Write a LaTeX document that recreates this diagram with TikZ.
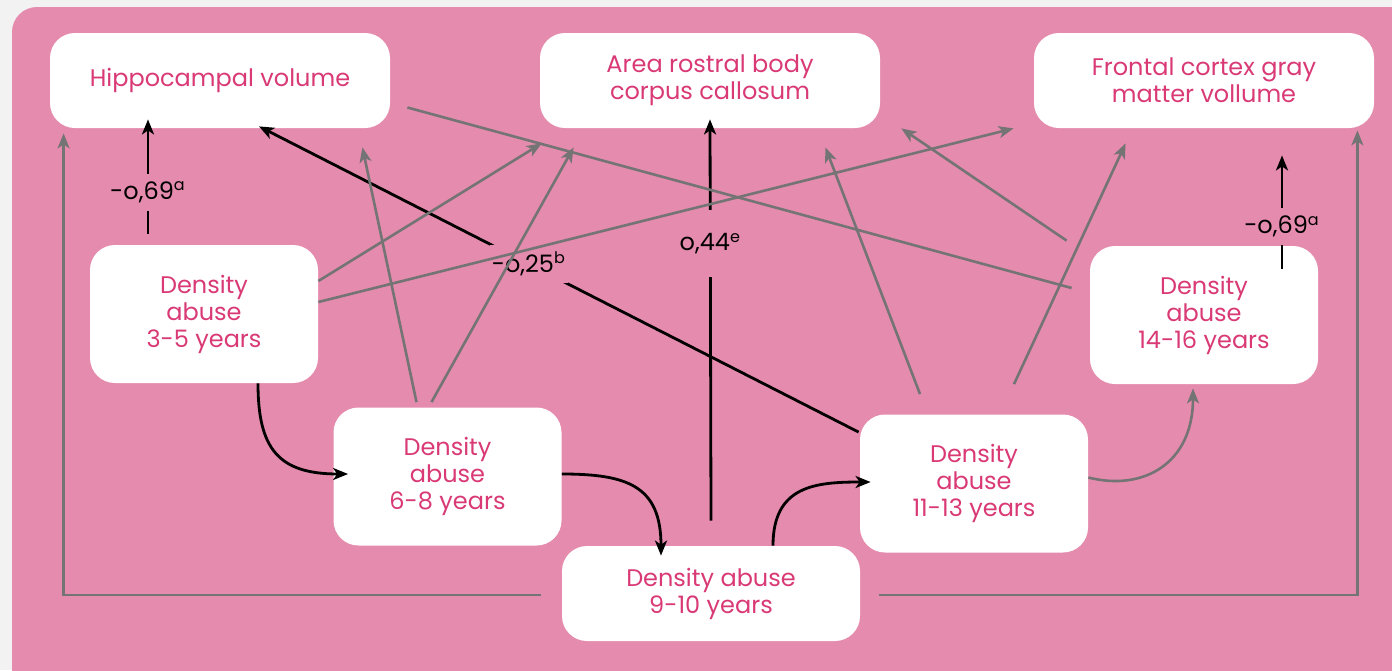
\documentclass[tikz,border=0pt]{standalone}
\usepackage{fontspec}
\setmainfont{Poppins}
\usetikzlibrary{arrows.meta,calc}

\definecolor{pagegray}{HTML}{F2F2F2}
\definecolor{panelpink}{HTML}{E58BAD}
\definecolor{boxtext}{HTML}{D93A76}
\definecolor{linkgray}{HTML}{747474}

\tikzstyle{box} = [rectangle, rounded corners=12.5pt, fill=white, text=boxtext, align=center, inner sep=0pt, font=\fontsize{12}{13.5}\selectfont]
\tikzstyle{topbox} = [box, minimum width=170pt, minimum height=47.5pt]
\tikzstyle{agebox} = [box, minimum width=114pt, minimum height=69pt]
\tikzstyle{link} = [linkgray, line width=1.3pt, -{Stealth[length=7.5pt,width=6pt,inset=2pt]}]
\tikzstyle{effect} = [black, line width=1.4pt, -{Stealth[length=7.5pt,width=6pt,inset=2pt]}]
\tikzstyle{coef} = [fill=panelpink, text=black, inner xsep=1pt, font=\fontsize{12}{13.5}\selectfont]

\begin{document}
\begin{tikzpicture}[x=0.5pt, y=-0.5pt]
\useasboundingbox (0,0) rectangle (1392,670);
\fill[pagegray] (0,0) rectangle (1392,670);
\clip (0,0) rectangle (1392,670);
\fill[panelpink, rounded corners=12.5pt] (12,7) rectangle (1420,700);

% outcomes
\node[topbox] (hippo) at (220,80.5) {Hippocampal volume};
\node[topbox] (area) at (710,80.5) {Area rostral body\\corpus callosum};
\node[topbox] (frontal) at (1204,80.5) {Frontal cortex gray\\matter vollume};

% abuse periods
\node[agebox] (d35) at (204,314) {Density\\abuse\\3-5 years};
\node[agebox] (d68) at (447.5,476.5) {Density\\abuse\\6-8 years};
\node[box, minimum width=149pt, minimum height=47.5pt] (d910) at (711,593.5) {Density abuse\\9-10 years};
\node[agebox] (d1113) at (974,483.5) {Density\\abuse\\11-13 years};
\node[agebox] (d1416) at (1204,315) {Density\\abuse\\14-16 years};

% significant paths
\draw[effect] ($(d35.north)+(-56,-11)$) -- node[coef, pos=0.36, inner ysep=4pt] {-o,69\textsuperscript{a}} ($(hippo.south)+(-72,-9)$);
\draw[effect] ($(d1416.north)+(78,23)$) -- node[coef, pos=0.37, inner ysep=4pt] {-o,69\textsuperscript{a}} ($(frontal.south)+(78,27)$);
\draw[effect] ($(d1113.north west)+(-1,18)$) -- node[coef, pos=0.55, inner ysep=3.5pt] {-o,25\textsuperscript{b}} ($(hippo.south)+(39,-2)$);
\draw[effect] ($(d910.north)+(0,-25)$) -- node[coef, pos=0.69, inner ysep=11.5pt] {o,44\textsuperscript{e}} ($(area.south)+(0,-9)$);

% continuity of abuse
\draw[effect] ($(d35.south)+(54,0)$) .. controls +(0,65) and +(-70,0) .. ($(d68.west)+(15,-2.5)$);
\draw[effect] ($(d68.east)+(0,-2.5)$) .. controls +(65,0) and +(0,-70) .. ($(d910.north)+(-50,10)$);
\draw[effect] ($(d910.north)+(62,0)$) .. controls +(0,-60) and +(-55,0) .. ($(d1113.west)+(11,-1.5)$);
\draw[link] ($(d1113.east)+(0,-6)$) .. controls +(55,14) and +(0,75) .. ($(d1416.south)+(-11,4)$);

% other paths
\draw[link] ($(d35.east)+(0,-33)$) -- ($(area.south west)+(2,15)$);
\draw[link] ($(d35.east)+(0,-12)$) -- ($(frontal.south west)+(-20,0)$);
\draw[link] ($(d68.north)+(-31,-5)$) -- ($(hippo.south east)+(-28,19)$);
\draw[link] ($(d68.north)+(-16,-5)$) -- ($(area.south west)+(34,19)$);
\draw[link] ($(d1113.north)+(-54,-20)$) -- ($(area.south east)+(-55,19)$);
\draw[link] ($(d1113.north)+(40,-30)$) -- ($(frontal.south west)+(92,15)$);
\draw[link] ($(d1416.north west)+(-23,-5)$) -- ($(area.south east)+(21,0)$);
\draw[link, -] ($(d1416.west)+(-18,-27)$) -- ($(hippo.east)+(17,27)$);
\draw[link] ($(d910.west)+(-21,1.5)$) -| ($(hippo.south west)+(14,5)$);
\draw[link] ($(d910.east)+(19,1.5)$) -| ($(frontal.south east)+(-17,2)$);
\end{tikzpicture}
\end{document}
